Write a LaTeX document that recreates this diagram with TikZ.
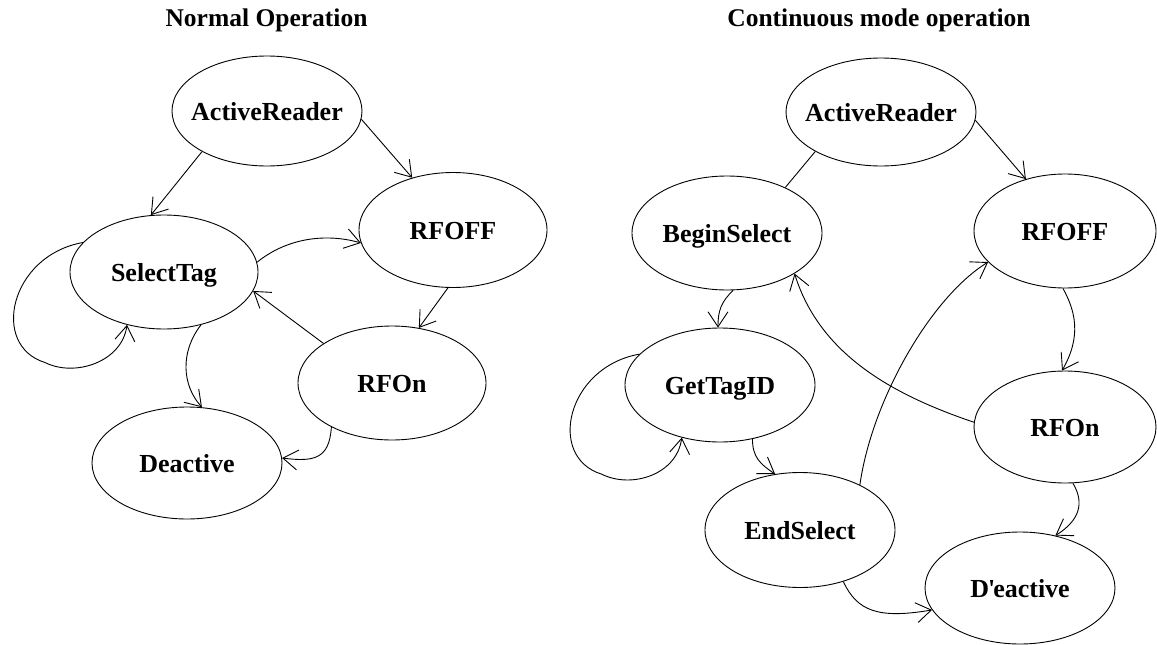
\documentclass[tikz,border=0pt]{standalone}
\usepackage{fontspec}
\setmainfont{Liberation Serif}
\usetikzlibrary{arrows.meta,shapes.geometric}
\newcommand\ntext[1]{\makebox[0pt]{#1}}
\begin{document}
\begin{tikzpicture}[x=1pt,y=-1pt,
  state/.style={ellipse,draw,line width=0.9pt,inner sep=0pt,
    font=\fontsize{26pt}{30pt}\selectfont\bfseries,text height=18pt,text depth=0pt},
  arr/.style={line width=0.9pt,-{Straight Barb[length=15pt,width=20pt]}},
  plainline/.style={line width=0.9pt},
  ttl/.style={font=\fontsize{25.5pt}{30pt}\selectfont\bfseries,anchor=base,inner sep=0pt}]
\useasboundingbox (0,0) rectangle (1157,645);

% titles
\node[ttl] (t1) at (266.5,27) {Normal Operation};
\node[ttl] (t2) at (879,27) {Continuous mode operation};

% left diagram
\node[state,minimum width=190pt,minimum height=110pt] (ar1) at (267,111) {\ntext{ActiveReader}};
\node[state,minimum width=188pt,minimum height=114pt] (sel) at (164,272) {\ntext{SelectTag}};
\node[state,minimum width=188pt,minimum height=115pt] (off1) at (453,230) {\ntext{RFOFF}};
\node[state,minimum width=188pt,minimum height=114pt] (on1) at (392,383) {\ntext{RFOn}};
\node[state,minimum width=190pt,minimum height=112pt] (de1) at (187,463) {\ntext{Deactive}};

\draw[arr] (ar1.212) -- (sel.103);
\draw[arr] (ar1.-5) -- (off1.128);
\draw[arr] (sel.6) .. controls +(27,-22) and +(-39,-11) .. (off1.188);
\draw[arr] (sel.160) .. controls +(-73,13) and +(-55,-17) .. ++(-38,120)
  .. controls +(30,15) and +(-5,37) .. (sel.235);
\draw[arr] (off1.265) -- (on1.64);
\draw[arr] (on1.150) -- (sel.-12);
\draw[arr] (sel.-55) .. controls +(-21,27) and +(-20,-22) .. (de1.75);
\draw[arr] (on1.216) .. controls +(-2,32) and +(32,4) .. (de1.3);

% right diagram
\node[state,minimum width=190pt,minimum height=108pt] (ar2) at (881,112) {\ntext{ActiveReader}};
\node[state,minimum width=190pt,minimum height=114pt] (bs) at (727,233) {\ntext{BeginSelect}};
\node[state,minimum width=182pt,minimum height=114pt] (off2) at (1065,231) {\ntext{RFOFF}};
\node[state,minimum width=182pt,minimum height=112pt] (on2) at (1065,427) {\ntext{RFOn}};
\node[state,minimum width=190pt,minimum height=114pt] (gt) at (720,385) {\ntext{GetTagID}};
\node[state,minimum width=190pt,minimum height=115pt] (es) at (800,530) {\ntext{EndSelect}};
\node[state,minimum width=190pt,minimum height=112pt] (de2) at (1020,588) {\ntext{D\kern-1pt\textquotesingle\kern-2pt eactive}};

\draw[plainline] (ar2.211) -- (bs.38);
\draw[arr] (ar2.-5) -- (off2.127);
\draw[arr] (bs.276) .. controls +(-12,12) and +(0,-17) .. (gt.92);
\draw[arr] (gt.159) .. controls +(-73,13) and +(-55,-17) .. ++(-38,120)
  .. controls +(30,15) and +(-5,37) .. (gt.234);
\draw[arr] (gt.-59) .. controls +(0,18) and +(-15,-10) .. (es.114);
\draw[arr] (es.37) .. controls +(12,-85) and +(-57,35) .. (off2.202);
\draw[arr] (on2.177) .. controls +(-83,-28) and +(25,80) .. (bs.-31);
\draw[arr] (off2.268) .. controls +(12,22) and +(20,-35) .. (on2.93);
\draw[arr] (on2.278) .. controls +(12,20) and +(24,-15) .. (de2.56);
\draw[arr] (es.-50) .. controls +(14,30) and +(-53,9) .. (de2.194);
\end{tikzpicture}
\end{document}
